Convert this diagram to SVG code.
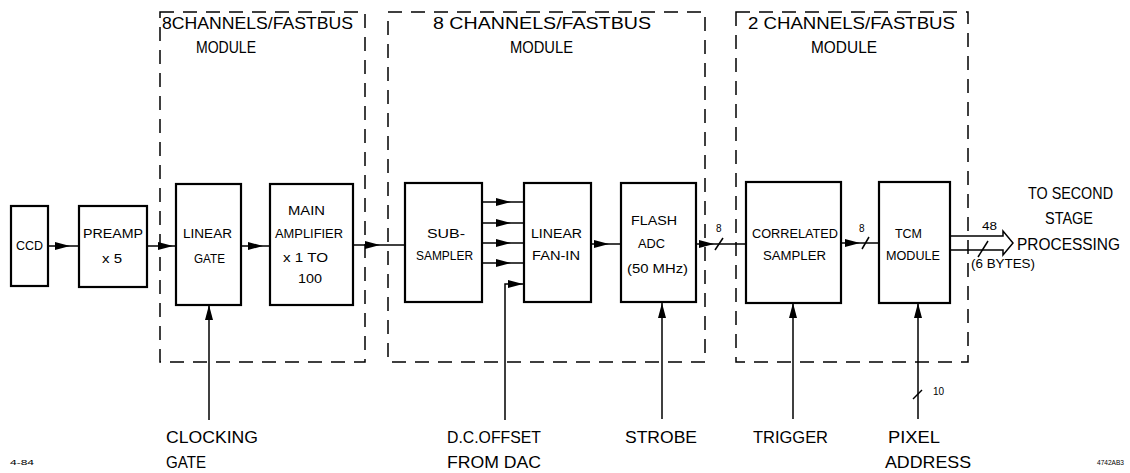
<svg xmlns="http://www.w3.org/2000/svg" width="1130" height="473" viewBox="0 0 1130 473">
<style>
  .bg{fill:#fff}
  .mod{fill:none;stroke:#000;stroke-width:1.5;stroke-dasharray:14 9}
  .box{fill:#fff;stroke:#000;stroke-width:2.2}
  .ln{fill:none;stroke:#000;stroke-width:1.5}
  .t{font-family:"Liberation Sans",Arial,sans-serif;fill:#000}
  .big{font-size:17px}
  .nd{font-size:12px}
  .sm{font-size:10px}
  .tiny{font-size:7px}
</style>
<defs>
  <marker id="ah" viewBox="0 0 15 8" refX="15" refY="4" markerWidth="15" markerHeight="8" markerUnits="userSpaceOnUse" orient="auto">
    <path d="M0,0 L15,4 L0,8 z" fill="#000"/>
  </marker>
</defs>
<rect class="bg" x="0" y="0" width="1130" height="473"/>

<g id="modules">
  <g id="module1">
    <rect class="mod" x="160" y="12" width="205" height="350"/>
    <text class="t big" x="162" y="29" textLength="191" lengthAdjust="spacingAndGlyphs">8CHANNELS/FASTBUS</text>
    <text class="t big" x="196" y="53" textLength="60" lengthAdjust="spacingAndGlyphs">MODULE</text>
  </g>
  <g id="module2">
    <rect class="mod" x="388" y="12" width="317" height="350"/>
    <text class="t big" x="433" y="29" textLength="218" lengthAdjust="spacingAndGlyphs">8 CHANNELS/FASTBUS</text>
    <text class="t big" x="510" y="53" textLength="63" lengthAdjust="spacingAndGlyphs">MODULE</text>
  </g>
  <g id="module3">
    <rect class="mod" x="736" y="12" width="232" height="350"/>
    <text class="t big" x="748" y="29" textLength="207" lengthAdjust="spacingAndGlyphs">2 CHANNELS/FASTBUS</text>
    <text class="t big" x="811" y="53" textLength="66" lengthAdjust="spacingAndGlyphs">MODULE</text>
  </g>
</g>

<g id="connectors">
  <path class="ln" d="M48,246 L70,246 L79,246" marker-mid="url(#ah)"/>
  <path class="ln" d="M147,246 L173,246 L176,246" marker-mid="url(#ah)"/>
  <path class="ln" d="M241,246 L263,246 L270,246" marker-mid="url(#ah)"/>
  <path class="ln" d="M353,245 L380,245 L405,245" marker-mid="url(#ah)"/>
  <path class="ln" d="M482,202 L511,202 L524,202" marker-mid="url(#ah)"/>
  <path class="ln" d="M482,223 L511,223 L524,223" marker-mid="url(#ah)"/>
  <path class="ln" d="M482,243 L511,243 L524,243" marker-mid="url(#ah)"/>
  <path class="ln" d="M482,263 L511,263 L524,263" marker-mid="url(#ah)"/>
  <path class="ln" d="M505,420 L505,284 L523,284" marker-end="url(#ah)"/>
  <path class="ln" d="M591,244 L609,244 L621,244" marker-mid="url(#ah)"/>
  <path class="ln" d="M696,244 L714,244 L746,244" marker-mid="url(#ah)"/>
  <path class="ln" d="M715,250 L723,238"/>
  <text class="t sm" x="716" y="232">8</text>
  <path class="ln" d="M841,243 L860,243 L879,243" marker-mid="url(#ah)"/>
  <path class="ln" d="M862,249 L869,237"/>
  <text class="t sm" x="859" y="232">8</text>
  <polygon class="ln" points="950,236 1003,236 1003,231 1013,243 1003,255 1003,250 950,250" fill="#fff"/>
  <path class="ln" d="M978,257 L988,241"/>
  <text class="t sm" x="982" y="230" textLength="15" lengthAdjust="spacingAndGlyphs">48</text>
  <text class="t nd" x="971" y="268" textLength="64" lengthAdjust="spacingAndGlyphs">(6 BYTES)</text>
  <path class="ln" d="M209,420 L209,305" marker-end="url(#ah)"/>
  <path class="ln" d="M662,419 L662,303" marker-end="url(#ah)"/>
  <path class="ln" d="M793,419 L793,303" marker-end="url(#ah)"/>
  <path class="ln" d="M918,419 L918,303" marker-end="url(#ah)"/>
  <path class="ln" d="M913,399 L922,390"/>
  <text class="t sm" x="933" y="395">10</text>
</g>

<g id="ccd">
  <rect class="box" x="11" y="206" width="37" height="80"/>
  <text class="t nd" x="16" y="250" textLength="27" lengthAdjust="spacingAndGlyphs">CCD</text>
</g>
<g id="preamp">
  <rect class="box" x="79" y="206" width="68" height="81"/>
  <text class="t nd" x="83" y="238" textLength="60" lengthAdjust="spacingAndGlyphs">PREAMP</text>
  <text class="t nd" x="102" y="263" textLength="20" lengthAdjust="spacingAndGlyphs">x 5</text>
</g>
<g id="linear-gate">
  <rect class="box" x="176" y="184" width="65" height="121"/>
  <text class="t nd" x="183" y="238" textLength="49" lengthAdjust="spacingAndGlyphs">LINEAR</text>
  <text class="t nd" x="194" y="263" textLength="31" lengthAdjust="spacingAndGlyphs">GATE</text>
</g>
<g id="main-amplifier">
  <rect class="box" x="270" y="184" width="83" height="121"/>
  <text class="t nd" x="288" y="215" textLength="37" lengthAdjust="spacingAndGlyphs">MAIN</text>
  <text class="t nd" x="275" y="238" textLength="68" lengthAdjust="spacingAndGlyphs">AMPLIFIER</text>
  <text class="t nd" x="283" y="262" textLength="45" lengthAdjust="spacingAndGlyphs">x 1  TO</text>
  <text class="t nd" x="298" y="283" textLength="24" lengthAdjust="spacingAndGlyphs">100</text>
</g>
<g id="sub-sampler">
  <rect class="box" x="405" y="183" width="77" height="119"/>
  <text class="t nd" x="427" y="238" textLength="38" lengthAdjust="spacingAndGlyphs">SUB-</text>
  <text class="t nd" x="416" y="260" textLength="57" lengthAdjust="spacingAndGlyphs">SAMPLER</text>
</g>
<g id="linear-fan-in">
  <rect class="box" x="524" y="183" width="67" height="119"/>
  <text class="t nd" x="531" y="238" textLength="51" lengthAdjust="spacingAndGlyphs">LINEAR</text>
  <text class="t nd" x="532" y="260" textLength="48" lengthAdjust="spacingAndGlyphs">FAN-IN</text>
</g>
<g id="flash-adc">
  <rect class="box" x="621" y="183" width="75" height="119"/>
  <text class="t nd" x="631" y="225" textLength="46" lengthAdjust="spacingAndGlyphs">FLASH</text>
  <text class="t nd" x="638" y="248" textLength="27" lengthAdjust="spacingAndGlyphs">ADC</text>
  <text class="t nd" x="627" y="273" textLength="61" lengthAdjust="spacingAndGlyphs">(50 MHz)</text>
</g>
<g id="correlated-sampler">
  <rect class="box" x="746" y="182" width="95" height="121"/>
  <text class="t nd" x="752" y="238" textLength="86" lengthAdjust="spacingAndGlyphs">CORRELATED</text>
  <text class="t nd" x="763" y="260" textLength="63" lengthAdjust="spacingAndGlyphs">SAMPLER</text>
</g>
<g id="tcm-module">
  <rect class="box" x="879" y="182" width="71" height="121"/>
  <text class="t nd" x="895" y="238" textLength="27" lengthAdjust="spacingAndGlyphs">TCM</text>
  <text class="t nd" x="886" y="260" textLength="54" lengthAdjust="spacingAndGlyphs">MODULE</text>
</g>

<g id="to-second-stage">
  <text class="t big" x="1028" y="199" textLength="85" lengthAdjust="spacingAndGlyphs">TO SECOND</text>
  <text class="t big" x="1045" y="224" textLength="48" lengthAdjust="spacingAndGlyphs">STAGE</text>
  <text class="t big" x="1017" y="250" textLength="103" lengthAdjust="spacingAndGlyphs">PROCESSING</text>
</g>
<g id="clocking-gate">
  <text class="t big" x="166" y="443" textLength="92" lengthAdjust="spacingAndGlyphs">CLOCKING</text>
  <text class="t big" x="166" y="468" textLength="40" lengthAdjust="spacingAndGlyphs">GATE</text>
</g>
<g id="dc-offset">
  <text class="t big" x="447" y="443" textLength="94" lengthAdjust="spacingAndGlyphs">D.C.OFFSET</text>
  <text class="t big" x="447" y="468" textLength="94" lengthAdjust="spacingAndGlyphs">FROM DAC</text>
</g>
<g id="strobe">
  <text class="t big" x="625" y="443" textLength="72" lengthAdjust="spacingAndGlyphs">STROBE</text>
</g>
<g id="trigger">
  <text class="t big" x="753" y="443" textLength="75" lengthAdjust="spacingAndGlyphs">TRIGGER</text>
</g>
<g id="pixel-address">
  <text class="t big" x="888" y="443" textLength="52" lengthAdjust="spacingAndGlyphs">PIXEL</text>
  <text class="t big" x="885" y="468" textLength="86" lengthAdjust="spacingAndGlyphs">ADDRESS</text>
</g>
<text class="t tiny" x="10" y="465" textLength="24" lengthAdjust="spacingAndGlyphs">4-84</text>
<text class="t tiny" x="1097" y="465" textLength="27" lengthAdjust="spacingAndGlyphs">4742AB3</text>
</svg>
